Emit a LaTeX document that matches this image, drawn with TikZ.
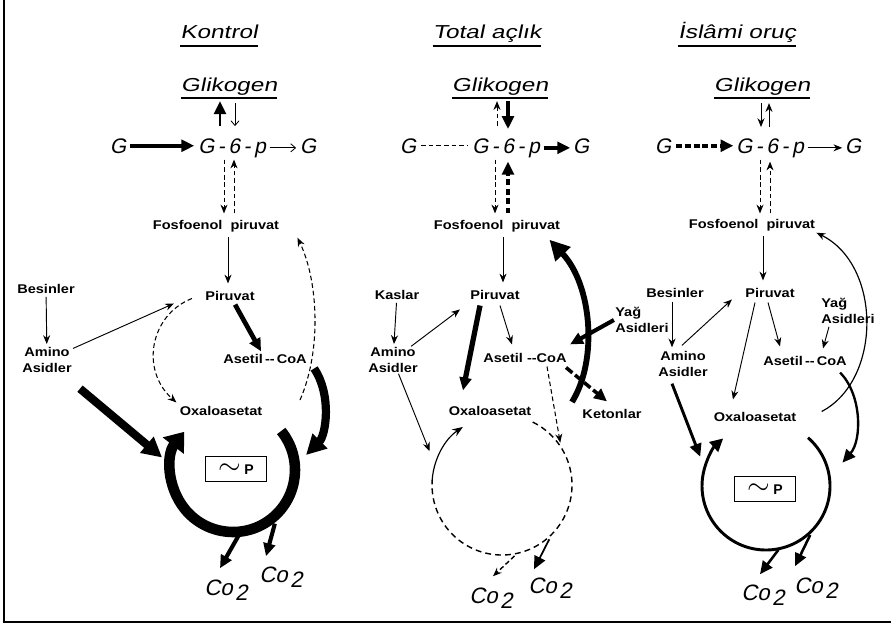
\documentclass[tikz,border=0pt]{standalone}
\usepackage{fontspec}
\setmainfont{Liberation Sans}
\newfontfamily\ttlfont[FakeStretch=1.3,FakeSlant=0.2]{Liberation Sans}
\newfontfamily\frmfont[FakeSlant=0.2]{Liberation Sans}
\newfontfamily\labfont[FakeStretch=1.15]{Liberation Sans}
\usetikzlibrary{arrows.meta,calc}

\begin{document}
\begin{tikzpicture}[x=0.03cm,y=-0.03cm,
  ttl/.style={font=\ttlfont\fontsize{16}{18}\selectfont,inner sep=0pt,anchor=base},
  frm/.style={font=\frmfont\fontsize{18}{20}\selectfont,inner sep=0pt,anchor=base},
  lab/.style={font=\labfont\bfseries\fontsize{10.8}{13}\selectfont,inner sep=1pt,anchor=base},
  lab2/.style={font=\labfont\bfseries\fontsize{10.8}{13}\selectfont,inner sep=1pt,align=center},
  lab3/.style={font=\labfont\bfseries\fontsize{10.8}{13}\selectfont,inner sep=1pt,align=left},
  co/.style={font=\frmfont\fontsize{19}{20}\selectfont,inner sep=0pt,anchor=base},
  pbox/.style={draw,line width=1.1pt,minimum width=1.85cm,minimum height=0.75cm,inner sep=0pt},
  arr/.style={-{Stealth[length=7.5pt,width=6pt]},line width=0.8pt},
  barb/.style={-{Straight Barb[length=4pt,width=7pt]},line width=0.7pt},
  dsh/.style={dash pattern=on 4pt off 2.5pt},
  fat/.style={line width=#1,-{Triangle[length=11pt,width=10pt]}},
  fat/.default=3pt,
  huge/.style={line width=#1,-{Triangle[length=17pt,width=17pt]}},
  huge/.default=6pt
]
\useasboundingbox (0,0) rectangle (891,631);
% frame of the page
\draw[line width=1.5pt] (4,0) -- (4,622) -- (891,622);

% ---------------- Kontrol
\node[ttl] (ttlA) at (219,38) {Kontrol};
\node[ttl] (glkA) at (229,91) {Glikogen};
\draw[line width=1pt] ($(ttlA.base west)+(0,8)$) -- ($(ttlA.base east)+(0,8)$);
\draw[line width=1pt] ($(glkA.base west)+(0,7)$) -- ($(glkA.base east)+(0,7)$);
\node[frm] (gA) at (118,153) {G};
\node[frm] (g6pA) at (232,153) {G\,-\,6\,-\,p};
\node[frm] (gA2) at (308,153) {G};
\node[lab] (pepA) at (216,229) {Fosfoenol\ \ piruvat};
\node[lab] (piruA) at (230,300) {Piruvat};
\node[lab] (besA) at (46,293) {Besinler};
\node[lab2] (aminoA) at (47,360) {Amino\\Asidler};
\node[lab] (asetA) at (265,363) {Asetil\,--\,CoA};
\node[lab] (oxaA) at (221,415) {Oxaloasetat};
\node[pbox] (pA) at (236,469) {{\fontsize{24}{24}\selectfont$\sim$}\;{\bfseries\fontsize{12}{12}\selectfont P}};
\node[co] (coA1) at (226,595) {Co\kern2pt\raisebox{-0.45ex}{2}};
\node[co] (coA2) at (281,582) {Co\kern2pt\raisebox{-0.45ex}{2}};
\coordinate (cA) at (233,470);
\coordinate (dA) at (300,400);

\draw[fat=3.5pt,shorten <=3pt,shorten >=3pt] (gA) -- (gA.east -| g6pA.west);
\draw[barb,shorten <=3pt,shorten >=3pt] (g6pA.east) -- (g6pA.east -| gA2.west);
\draw[fat=2.5pt] ($(g6pA.north)+(-12,-12)$) -- ($(glkA.south)+(-9,6)$);
\draw[barb] ($(glkA.south)+(6,8)$) -- ($(g6pA.north)+(3,-12)$);
\draw[arr,dsh] ($(g6pA.south)+(-8,2)$) -- ($(pepA.north)+(8,-5)$);
\draw[arr,dsh] ($(pepA.north)+(18,-5)$) -- ($(g6pA.south)+(2,2)$);
\draw[arr] ($(pepA.south)+(12,4)$) -- ($(piruA.north)+(-2,-6)$);
\draw[arr,shorten <=2pt,shorten >=2pt] (besA) -- (aminoA);
\draw[arr] (aminoA) -- ($(piruA.west)+(-30,8)$);
\draw[arr,dsh,line width=0.9pt] ($(piruA.west)+(-12,3)$) .. controls (150,315) and (140,370) .. ($(oxaA.north west)+(-2,-2)$);
\draw[fat=4pt,shorten <=3pt,shorten >=1pt] (piruA) -- (asetA);
\draw[huge=7pt] ($(aminoA.south)+(33,15)$) -- ($(cA)+(190:72)$);
\draw[arr,dsh,line width=0.9pt] (dA) .. controls (322,350) and (318,280) .. ($(pepA.east)+(17,12)$);
\draw[huge=7pt] ($(asetA.east)+(6,10)$) .. controls (332,395) and (326,435) .. (306,455);
\draw[line width=9pt,-{Triangle[length=15pt,width=22pt]}] ($(cA)+(-39:62)$) arc[start angle=-39,end angle=218,radius=62];
\draw[fat=3.5pt] ($(cA)+(84:64)$) -- ($(coA1.north)+(-6,-11)$);
\draw[fat=3.5pt] ($(cA)+(52:68)$) -- ($(coA2.north)+(-15,-10)$);

% ---------------- Total aclik
\node[ttl] (ttlB) at (487,38) {Total açlık};
\node[ttl] (glkB) at (500,91) {Glikogen};
\draw[line width=1pt] ($(ttlB.base west)+(0,8)$) -- ($(ttlB.base east)+(0,8)$);
\draw[line width=1pt] ($(glkB.base west)+(0,7)$) -- ($(glkB.base east)+(0,7)$);
\node[frm] (gB) at (408,153) {G};
\node[frm] (g6pB) at (506,153) {G\,-\,6\,-\,p};
\node[frm] (gB2) at (581,153) {G};
\node[lab] (pepB) at (497,229) {Fosfoenol\ \ piruvat};
\node[lab] (piruB) at (495,299) {Piruvat};
\node[lab] (kasB) at (397,299) {Kaslar};
\node[lab2] (aminoB) at (393,360) {Amino\\Asidler};
\node[lab] (asetB) at (525,362) {Asetil\ --CoA};
\node[lab] (oxaB) at (490,415) {Oxaloasetat};
\node[lab3] (yagB) at (642,320) {Yağ\\Asidleri};
\node[lab] (ketB) at (612,418) {Ketonlar};
\node[co] (coB1) at (491,603) {Co\kern2pt\raisebox{-0.45ex}{2}};
\node[co] (coB2) at (550,593) {Co\kern2pt\raisebox{-0.45ex}{2}};
\coordinate (cB) at (502,485);

\draw[dsh,line width=0.8pt,shorten <=4pt,shorten >=3pt] (gB) -- (gB -| g6pB.west);
\draw[fat=3.5pt,shorten <=3pt,shorten >=2pt] (g6pB.east) -- (g6pB.east -| gB2.west);
\draw[arr,dsh] ($(g6pB.north)+(-9,-12)$) -- ($(glkB.south)+(-3,6)$);
\draw[fat=3pt] ($(glkB.south)+(8,6)$) -- ($(g6pB.north)+(2,-9)$);
\draw[arr,dsh] ($(g6pB.south)+(-11,2)$) -- ($(pepB.north)+(-2,-5)$);
\draw[fat=3pt,dash pattern=on 5pt off 3pt] ($(pepB.north)+(11,-5)$) -- ($(g6pB.south)+(2,4)$);
\draw[arr] ($(pepB.south)+(6,4)$) -- ($(piruB.north)+(8,-6)$);
\draw[arr,shorten <=2pt,shorten >=2pt] (kasB) -- (aminoB);
\draw[arr] (aminoB) -- ($(piruB.west)+(-9,15)$);
\draw[fat=4.5pt] ($(piruB.south)+(-15,5)$) -- ($(oxaB.north)+(-27,-14)$);
\draw[arr] ($(piruB.south)+(5,5)$) -- ($(asetB.north)+(-13,-7)$);
\draw[arr] (aminoB) -- ($(cB)+(205:80)$);
\draw[arr,dsh,line width=0.9pt] ($(asetB.south)+(22,3)$) -- ($(cB)+(-36:72)$);
\draw[fat=3pt,dash pattern=on 7pt off 3pt] ($(asetB.south east)+(-2,4)$) -- ($(ketB.north)+(-5,-6)$);
\draw[fat=3.5pt] (yagB.west) -- ($(asetB.north east)+(2,-7)$);
\draw[huge=5pt] (572,402) .. controls (598,360) and (592,285) .. ($(pepB.east)+(-12,14)$);
\draw[line width=1pt,-{Stealth[length=9pt,width=7pt]}] ($(cB)+(184:70)$) arc[start angle=184,end angle=236,radius=70];
\draw[line width=1.2pt,dash pattern=on 5pt off 3.5pt] ($(cB)+(-64:70)$) arc[start angle=-64,end angle=184,radius=70];
\draw[arr,dsh,line width=1.2pt] ($(cB)+(80:72)$) -- ($(coB1.north)+(2,-11)$);
\draw[fat=1.5pt] ($(cB)+(49:72)$) -- ($(coB2.north)+(-16,-8)$);

% ---------------- Islami oruc
\node[ttl] (ttlC) at (737,38) {İslâmi oruç};
\node[ttl] (glkC) at (762,91) {Glikogen};
\draw[line width=1pt] ($(ttlC.base west)+(0,8)$) -- ($(ttlC.base east)+(0,8)$);
\draw[line width=1pt] ($(glkC.base west)+(0,7)$) -- ($(glkC.base east)+(0,7)$);
\node[frm] (gC) at (663,153) {G};
\node[frm] (g6pC) at (770,153) {G\,-\,6\,-\,p};
\node[frm] (gC2) at (853,153) {G};
\node[lab] (pepC) at (752,228) {Fosfoenol\ \ piruvat};
\node[lab] (piruC) at (770,297) {Piruvat};
\node[lab] (besC) at (675,297) {Besinler};
\node[lab2] (aminoC) at (683,364) {Amino\\Asidler};
\node[lab] (asetC) at (805,365) {Asetil\,--\,CoA};
\node[lab3] (yagC) at (848,311) {Yağ\\Asidleri};
\node[lab] (oxaC) at (755,421) {Oxaloasetat};
\node[pbox] (pC) at (765,489) {{\fontsize{24}{24}\selectfont$\sim$}\;{\bfseries\fontsize{12}{12}\selectfont P}};
\node[co] (coC1) at (763,600) {Co\kern2pt\raisebox{-0.45ex}{2}};
\node[co] (coC2) at (816,593) {Co\kern2pt\raisebox{-0.45ex}{2}};
\coordinate (cC) at (766,486);

\draw[fat=3.5pt,dash pattern=on 5pt off 2.5pt,shorten <=4pt,shorten >=2pt] (gC) -- (gC -| g6pC.west);
\draw[arr,shorten <=3pt,shorten >=2pt] (g6pC.east) -- (g6pC.east -| gC2.west);
\draw[arr] ($(glkC.south)+(-1,8)$) -- ($(g6pC.north)+(-9,-11)$);
\draw[arr] ($(g6pC.north)+(-1,-11)$) -- ($(glkC.south)+(7,8)$);
\draw[arr,dsh] ($(g6pC.south)+(-10,2)$) -- ($(pepC.north)+(8,-4)$);
\draw[arr,dsh] ($(pepC.north)+(18,-4)$) -- ($(g6pC.south)+(0,4)$);
\draw[arr] ($(pepC.south)+(11,4)$) -- ($(piruC.north)+(-7,-6)$);
\draw[arr] ($(besC.south)+(-3,3)$) -- ($(aminoC.north)+(-11,-3)$);
\draw[arr] ($(aminoC.north)+(-1,-5)$) -- ($(piruC.west)+(-12,7)$);
\draw[arr] ($(piruC.south)+(-15,4)$) -- ($(oxaC.north)+(-22,-11)$);
\draw[arr] ($(piruC.south)+(-2,4)$) -- ($(asetC.north)+(-25,-8)$);
\draw[arr] ($(yagC.south)+(-19,2)$) -- ($(asetC.north)+(18,-6)$);
\draw[fat=2.5pt] ($(aminoC.south)+(-11,6)$) -- ($(cC)+(204:72)$);
\draw[fat=2pt] ($(asetC.south east)+(-8,6)$) .. controls (862,395) and (862,440) .. ($(cC)+(-17:80)$);
\draw[arr,line width=1pt] ($(oxaC.east)+(24,-5)$) .. controls (882,380) and (882,265) .. ($(pepC.east)+(0,8)$);
\draw[line width=2.5pt,-{Triangle[length=11pt,width=11pt]}] ($(cC)+(-49:64)$) arc[start angle=-49,end angle=228,radius=64];
\draw[fat=2.2pt] ($(cC)+(79:65)$) -- ($(coC1.north)+(-3,-10)$);
\draw[fat=2.2pt] ($(cC)+(48:66)$) -- ($(coC2.north)+(-21,-11)$);
\end{tikzpicture}
\end{document}
